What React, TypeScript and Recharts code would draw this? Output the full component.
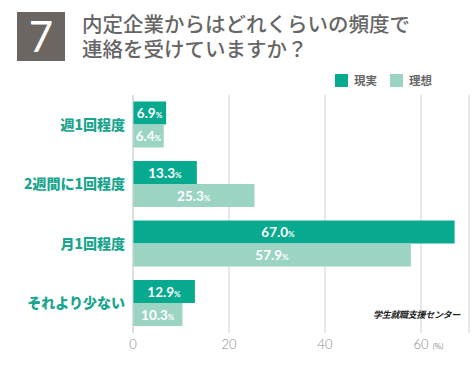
import React from "react";
import { BarChart, Bar, XAxis, YAxis, CartesianGrid, LabelList } from "recharts";

const categories = ["週1回程度", "2週間に1回程度", "月1回程度", "それより少ない"];
const actual = [6.9, 13.3, 67.0, 12.9];
const ideal = [6.4, 25.3, 57.9, 10.3];
const xTicks = [0, 20, 40, 60];
const seriesNames = ["現実", "理想"];

const C_ACTUAL = "#07a98f";
const C_IDEAL = "#9cd4c3";
const JP = '"Noto Sans CJK JP", sans-serif';

const data = categories.map((c, i) => ({ label: c, actual: actual[i], ideal: ideal[i] }));

function ValueLabel(props: any) {
  const { x, y, width, height, value } = props;
  const cx = x + Math.min(width / 2, 145);
  return (
    <text x={cx} y={y + height / 2 + 5} textAnchor="middle" fill="#fff" fontFamily="Lato, sans-serif" fontWeight={700} fontSize={13.5}>
      {Number(value).toFixed(1)}
      <tspan fontSize={8}>%</tspan>
    </text>
  );
}

function XTick(props: any) {
  const { x, y, payload } = props;
  return (
    <g>
      <text x={x} y={y + 8} textAnchor="middle" fill="#8a8a8a" fontFamily="Lato, sans-serif" fontWeight={300} fontSize={13}>
        {payload.value}
      </text>
      {payload.value === 60 && (
        <text x={x + 17} y={y + 8} textAnchor="middle" fill="#8a8a8a" fontFamily={JP} fontSize={7}>(%)</text>
      )}
    </g>
  );
}

function LegendBox() {
  const colors = [C_ACTUAL, C_IDEAL];
  return (
    <div style={{ position: "absolute", left: 335, top: 73, display: "flex", gap: 13 }}>
      {seriesNames.map((n, i) => (
        <div key={n} style={{ display: "flex", alignItems: "center", gap: 6 }}>
          <span style={{ width: 13, height: 13, background: colors[i], display: "inline-block" }} />
          <span style={{ fontFamily: JP, fontWeight: 700, fontSize: 11.5, lineHeight: "14px", color: "#666" }}>{n}</span>
        </div>
      ))}
    </div>
  );
}

export default function App() {
  const titleLine = { position: "absolute" as const, left: 82, fontFamily: JP, fontWeight: 500, fontSize: 20.5, lineHeight: "21px", color: "#666", whiteSpace: "nowrap" as const };
  return (
    <div style={{ position: "absolute", left: 0, top: 0, width: 475, height: 373, background: "#fff", overflow: "hidden" }}>
      <div style={{ position: "absolute", left: 17, top: 12, width: 48, height: 49, background: "#6b6661", color: "#fff", fontFamily: "Lato, sans-serif", fontSize: 42, lineHeight: "49px", textAlign: "center" }}>
        7
      </div>
      <div style={{ ...titleLine, top: 13 }}>内定企業からはどれくらいの頻度で</div>
      <div style={{ ...titleLine, top: 38 }}>連絡を受けていますか？</div>
      <LegendBox />
      <BarChart
        width={475}
        height={373}
        data={data}
        layout="vertical"
        margin={{ top: 95, right: 6, bottom: 10, left: 8 }}
        barCategoryGap="11%"
        barGap={0}
      >
        <CartesianGrid horizontal={false} stroke="#d2d2d2" />
        <XAxis type="number" domain={[0, 70]} ticks={xTicks} axisLine={false} tickLine={false} height={30} tick={<XTick />} />
        <YAxis
          type="category"
          dataKey="label"
          width={125}
          axisLine={{ stroke: "#d2d2d2" }}
          tickLine={false}
          tick={{ fill: "#1aa58e", fontFamily: JP, fontWeight: 900, fontSize: 14 }}
        />
        <Bar dataKey="actual" name={seriesNames[0]} fill={C_ACTUAL} isAnimationActive={false}>
          <LabelList dataKey="actual" content={<ValueLabel />} />
        </Bar>
        <Bar dataKey="ideal" name={seriesNames[1]} fill={C_IDEAL} isAnimationActive={false}>
          <LabelList dataKey="ideal" content={<ValueLabel />} />
        </Bar>
      </BarChart>
      <div style={{ position: "absolute", left: 373, top: 308, fontFamily: JP, fontWeight: 700, fontStyle: "italic", fontSize: 9, color: "#222", letterSpacing: -0.3 }}>
        学生就職支援センター
      </div>
    </div>
  );
}
